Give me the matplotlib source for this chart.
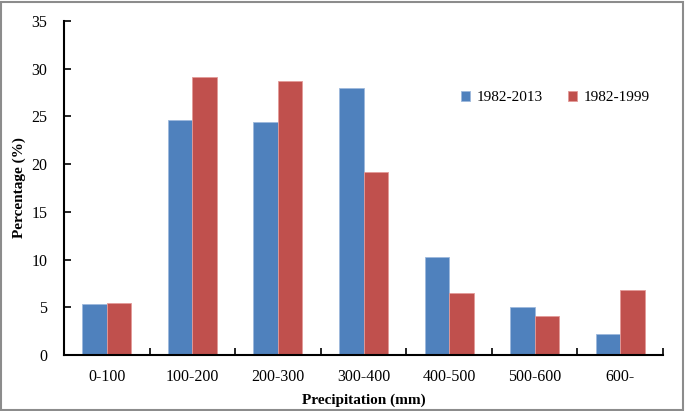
import numpy as np
import matplotlib
matplotlib.use("Agg")
import matplotlib.pyplot as plt
from matplotlib.patches import Rectangle

categories = ["0-100", "100-200", "200-300", "300-400", "400-500", "500-600", "600-"]
p_1982_2013 = [5.3, 24.6, 24.4, 28.0, 10.3, 5.0, 2.2]
p_1982_1999 = [5.5, 29.1, 28.7, 19.2, 6.5, 4.1, 6.8]
series_names = ["1982-2013", "1982-1999"]

plt.rcParams["font.family"] = ["Liberation Serif", "DejaVu Serif"]

fig = plt.figure(figsize=(6.85, 4.11), dpi=100)
ax = fig.add_axes([64 / 685, 56 / 411, 599 / 685, 334 / 411])

x = np.arange(len(categories))
w = 0.286
ax.bar(x - w / 2, p_1982_2013, w, color="#4F81BD", edgecolor="#9DB9DC", lw=0.6,
       label=series_names[0])
ax.bar(x + w / 2, p_1982_1999, w, color="#C0504D", edgecolor="#E39A98", lw=0.6,
       label=series_names[1])

ax.set_xlim(-0.5, len(categories) - 0.5)
ax.set_ylim(0, 35)
ax.set_yticks(np.arange(0, 36, 5))
ax.set_xticks(x)
ax.set_xticklabels(categories)
ax.set_xticks(np.arange(-0.5, len(categories)), minor=True)
ax.tick_params(axis="x", which="major", length=0, pad=10, labelsize=11.5)
ax.tick_params(axis="x", which="minor", direction="in", length=5, width=1.2)
ax.tick_params(axis="y", direction="in", length=5, width=1.2, pad=12, labelsize=11.5)
for s in ["top", "right"]:
    ax.spines[s].set_visible(False)
for s in ["left", "bottom"]:
    ax.spines[s].set_linewidth(1.5)

ax.set_xlabel("Precipitation (mm)", fontsize=11, fontweight="bold", labelpad=6)
ax.set_ylabel("Percentage (%)", fontsize=11, fontweight="bold", labelpad=4)

ax.legend(loc="center left", bbox_to_anchor=(0.64, 0.77), ncol=2, frameon=False,
          fontsize=11, handlelength=0.6, handleheight=0.6, handletextpad=0.45,
          columnspacing=1.6)

fig.patches.append(Rectangle((0.002, 0.003), 0.995, 0.993, transform=fig.transFigure,
                             fill=False, edgecolor="#8C8C8C", lw=1.5))

fig.savefig("out.png", dpi=100)
